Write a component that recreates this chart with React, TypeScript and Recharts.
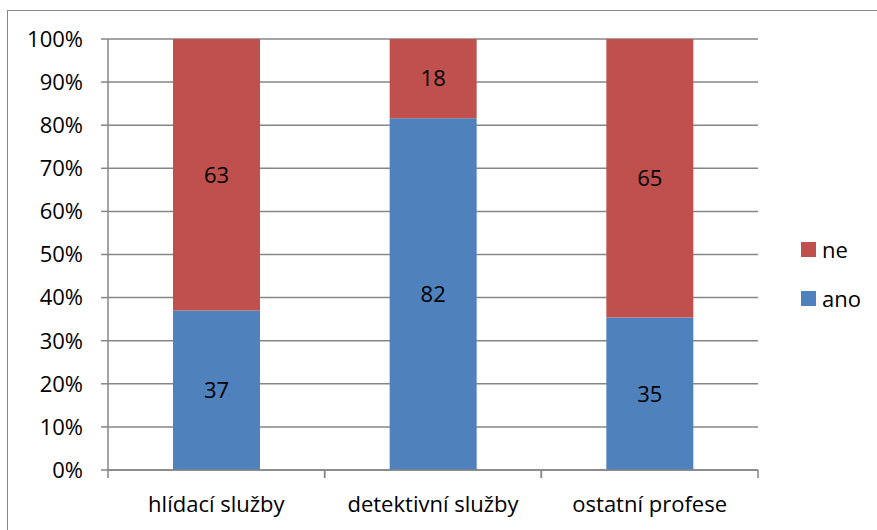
import { Bar, BarChart, CartesianGrid, LabelList, XAxis, YAxis } from 'recharts';

const CATEGORIES = ['hlídací služby', 'detektivní služby', 'ostatní profese'];
const ANO = [37, 81.6, 35.4];
const NE = [63, 18.4, 64.6];
const Y_TICKS = [0, 10, 20, 30, 40, 50, 60, 70, 80, 90, 100];

const BLUE = '#4F81BD';
const RED = '#C0504D';
const GRAY = '#868686';
const FONT = '"Open Sans", sans-serif';

const data = CATEGORIES.map((name, i) => ({ name, ano: ANO[i], ne: NE[i] }));

// category ticks sit on the band edges, like Excel
function CategoryTick(props: any) {
  const { x, y, payload } = props;
  const half = payload.offset ?? 0;
  return (
    <g>
      <line x1={x - half} x2={x - half} y1={y} y2={y + 8} stroke={GRAY} strokeWidth={1.5} />
      <line x1={x + half} x2={x + half} y1={y} y2={y + 8} stroke={GRAY} strokeWidth={1.5} />
      <text x={x} y={y + 42} textAnchor="middle" fontSize={22} fontFamily={FONT} fill="#000">
        {payload.value}
      </text>
    </g>
  );
}

const LEGEND = [
  { label: 'ne', color: RED },
  { label: 'ano', color: BLUE },
];

export default function App() {
  return (
    <div
      style={{
        position: 'fixed',
        left: 0,
        top: 0,
        width: 877,
        height: 530,
        overflow: 'hidden',
        background: '#fff',
      }}
    >
      <div
        style={{
          position: 'absolute',
          left: 7,
          top: 10,
          width: 900,
          height: 560,
          borderLeft: `1.5px solid ${GRAY}`,
          borderTop: `1.5px solid ${GRAY}`,
        }}
      />
      <div style={{ position: 'absolute', left: 0, top: 0 }}>
        <BarChart
          width={877}
          height={530}
          data={data}
          margin={{ top: 39, right: 119, left: 0, bottom: 0 }}
          barCategoryGap="30%"
        >
          <CartesianGrid vertical={false} stroke={GRAY} strokeWidth={1.5} />
          <XAxis
            dataKey="name"
            height={60}
            axisLine={{ stroke: GRAY, strokeWidth: 1.5 }}
            tickLine={false}
            tickSize={0}
            tickMargin={0}
            interval={0}
            tick={<CategoryTick />}
          />
          <YAxis
            width={108}
            domain={[0, 100]}
            ticks={Y_TICKS}
            interval={0}
            tickFormatter={(v) => `${v}%`}
            axisLine={{ stroke: GRAY, strokeWidth: 1.5 }}
            tickLine={{ stroke: GRAY, strokeWidth: 1.5 }}
            tickSize={7}
            tickMargin={18}
            tick={{ fill: '#000', fontSize: 22, fontFamily: FONT }}
          />
          <Bar dataKey="ano" stackId="a" fill={BLUE} isAnimationActive={false}>
            <LabelList
              dataKey="ano"
              position="center"
              formatter={(v: any) => Math.round(v)}
              fill="#000"
              fontSize={22}
              fontFamily={FONT}
            />
          </Bar>
          <Bar dataKey="ne" stackId="a" fill={RED} isAnimationActive={false}>
            <LabelList
              dataKey="ne"
              position="center"
              formatter={(v: any) => Math.round(v)}
              fill="#000"
              fontSize={22}
              fontFamily={FONT}
            />
          </Bar>
        </BarChart>
      </div>
      <div style={{ position: 'absolute', left: 801, top: 234, fontFamily: FONT, fontSize: 22 }}>
        {LEGEND.map((item) => (
          <div key={item.label} style={{ display: 'flex', alignItems: 'center', height: 30, marginBottom: 19 }}>
            <span style={{ width: 15, height: 15, background: item.color, marginRight: 6 }} />
            <span>{item.label}</span>
          </div>
        ))}
      </div>
    </div>
  );
}
